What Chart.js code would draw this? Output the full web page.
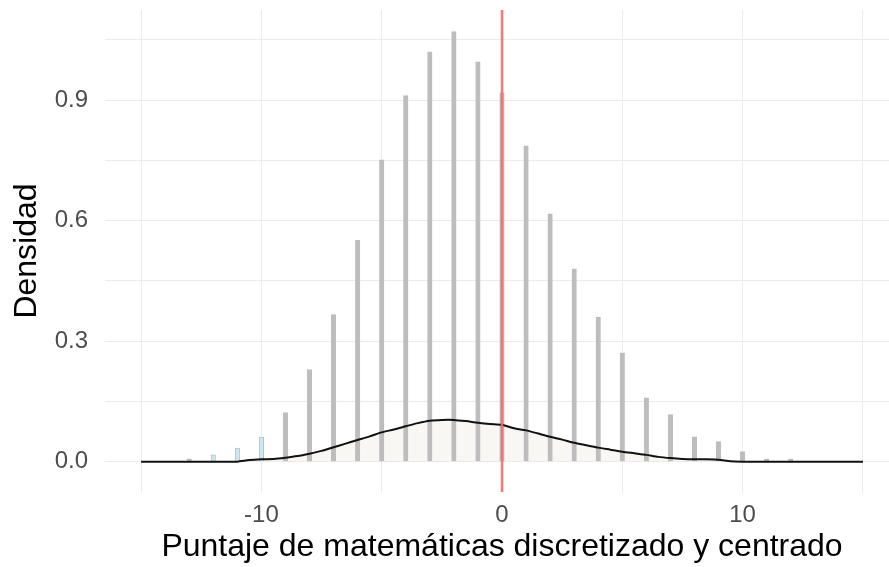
<!DOCTYPE html>
<html>
<head>
<meta charset="utf-8">
<script src="https://cdn.jsdelivr.net/npm/chart.js@4/dist/chart.umd.min.js"></script>
<style>
    html, body { margin: 0; padding: 0; background: #ffffff; overflow: hidden; }
</style>
</head>
<body>
<canvas id="densityChart" width="899" height="567"></canvas>
<script>
// histogram (density scale) of the discretized, centered scores
const scoreBins = [-13, -12, -11, -10, -9, -8, -7, -6, -5, -4, -3, -2, -1, 0, 1, 2, 3, 4, 5, 6, 7, 8, 9, 10, 11, 12];
const binDensity = [0.007, 0.017, 0.034, 0.061, 0.122, 0.229, 0.366, 0.551, 0.751, 0.911, 1.020, 1.070, 0.995,
    0.918, 0.786, 0.617, 0.480, 0.360, 0.271, 0.159, 0.117, 0.062, 0.050, 0.025, 0.007, 0.007];
const highlightBins = [-12, -11, -10];

// smooth density curve
const curveX = [-15, -14.5, -14, -13.5, -13, -12.5, -12, -11.5, -11, -10.5, -10, -9.5, -9, -8.5, -8, -7.5, -7,
    -6.5, -6, -5.5, -5, -4.5, -4, -3.5, -3, -2.5, -2, -1.5, -1, -0.5, 0, 0.5, 1, 1.5, 2, 2.5, 3, 3.5, 4, 4.5,
    5, 5.5, 6, 6.5, 7, 7.5, 8, 8.5, 9, 9.5, 10, 10.5, 11, 11.5, 12, 12.5, 13, 13.5, 14, 14.5, 15];
const curveY = [0, 0, 0, 0, 0, 0, 0, 0, 0, 0.004, 0.006, 0.007, 0.010, 0.014, 0.020, 0.027, 0.036,
    0.045, 0.054, 0.063, 0.073, 0.080, 0.088, 0.096, 0.102, 0.104, 0.104, 0.101, 0.097, 0.094, 0.092, 0.083, 0.078, 0.070, 0.062, 0.055, 0.047, 0.041, 0.035, 0.030,
    0.025, 0.021, 0.017, 0.012, 0.009, 0.007, 0.006, 0.006, 0.005, 0.001, 0, 0, 0, 0, 0, 0, 0, 0, 0, 0, 0];

const refLine = 0;

const xGrid = [-15, -10, -5, 0, 5, 10, 15];
const xLabels = [-10, 0, 10];
const yGrid = [0, 0.15, 0.3, 0.45, 0.6, 0.75, 0.9, 1.05];
const yLabels = [0, 0.3, 0.6, 0.9];

const xAxisTitle = "Puntaje de matemáticas discretizado y centrado";
const yAxisTitle = "Densidad";

const tickFont = { family: "'Liberation Sans', Arial, sans-serif", size: 24 };
const titleFont = { family: "'Liberation Sans', Arial, sans-serif", size: 32 };

// vertical reference line at the mean
const refLinePlugin = {
    id: "refLine",
    afterDatasetsDraw(chart) {
        const ctx = chart.ctx;
        const area = chart.chartArea;
        const x = chart.scales.x.getPixelForValue(refLine);
        ctx.save();
        ctx.strokeStyle = "rgba(245, 110, 110, 0.9)";
        ctx.lineWidth = 2.6;
        ctx.beginPath();
        ctx.moveTo(x, area.top);
        ctx.lineTo(x, area.bottom);
        ctx.stroke();
        ctx.restore();
    }
};

function barFill(context) {
    const bin = scoreBins[context.dataIndex];
    return highlightBins.includes(bin) ? "#cfe7f1" : "#bdbdbd";
}

function barBorder(context) {
    const bin = scoreBins[context.dataIndex];
    return highlightBins.includes(bin) ? "#b4c0c4" : "#bdbdbd";
}

const ctx = document.getElementById("densityChart").getContext("2d");

new Chart(ctx, {
    type: "bar",
    data: {
        datasets: [
            {
                type: "line",
                label: "Densidad",
                data: curveX.map((x, i) => ({ x: x, y: curveY[i] })),
                borderColor: "#111111",
                borderWidth: 2,
                backgroundColor: "rgba(238, 232, 220, 0.35)",
                fill: "origin",
                pointRadius: 0,
                tension: 0.25,
                order: 1
            },
            {
                type: "bar",
                label: "Histograma",
                data: scoreBins.map((b, i) => ({ x: b, y: binDensity[i] })),
                backgroundColor: barFill,
                borderColor: barBorder,
                borderWidth: 1,
                barThickness: 4.5,
                order: 2
            }
        ]
    },
    options: {
        responsive: false,
        devicePixelRatio: 1,
        animation: false,
        layout: { padding: { top: 10, right: 0, bottom: 0, left: 0 } },
        plugins: {
            legend: { display: false },
            tooltip: { enabled: false },
            filler: { drawTime: "beforeDatasetsDraw" }
        },
        scales: {
            x: {
                type: "linear",
                min: -16.5,
                max: 16.5,
                offset: false,
                border: { display: false },
                grid: { color: "#ebebeb", lineWidth: 1, drawTicks: false, offset: false },
                afterBuildTicks: (scale) => { scale.ticks = xGrid.map(v => ({ value: v })); },
                afterFit: (scale) => {
                    scale.height = 75;
                    scale.paddingLeft = 0;
                    scale.paddingRight = 0;
                },
                ticks: {
                    padding: 9,
                    color: "#4d4d4d",
                    font: tickFont,
                    maxRotation: 0,
                    autoSkip: false,
                    callback: (value) => xLabels.includes(value) ? String(value) : ""
                },
                title: {
                    display: true,
                    text: xAxisTitle,
                    color: "#000000",
                    font: titleFont,
                    padding: { top: 0, bottom: 1 }
                }
            },
            y: {
                min: -0.0754,
                max: 1.124,
                border: { display: false },
                grid: { color: "#ebebeb", lineWidth: 1, drawTicks: false },
                afterBuildTicks: (scale) => { scale.ticks = yGrid.map(v => ({ value: v })); },
                afterFit: (scale) => {
                    scale.width = 105;
                    scale.paddingTop = 0;
                    scale.paddingBottom = 0;
                },
                ticks: {
                    padding: 17,
                    color: "#4d4d4d",
                    font: tickFont,
                    autoSkip: false,
                    callback: (value) => yLabels.some(l => Math.abs(l - value) < 1e-9) ? value.toFixed(1) : ""
                },
                title: {
                    display: true,
                    text: yAxisTitle,
                    color: "#000000",
                    font: titleFont,
                    padding: { top: 8, bottom: 0 }
                }
            }
        }
    },
    plugins: [refLinePlugin]
});
</script>
</body>
</html>
